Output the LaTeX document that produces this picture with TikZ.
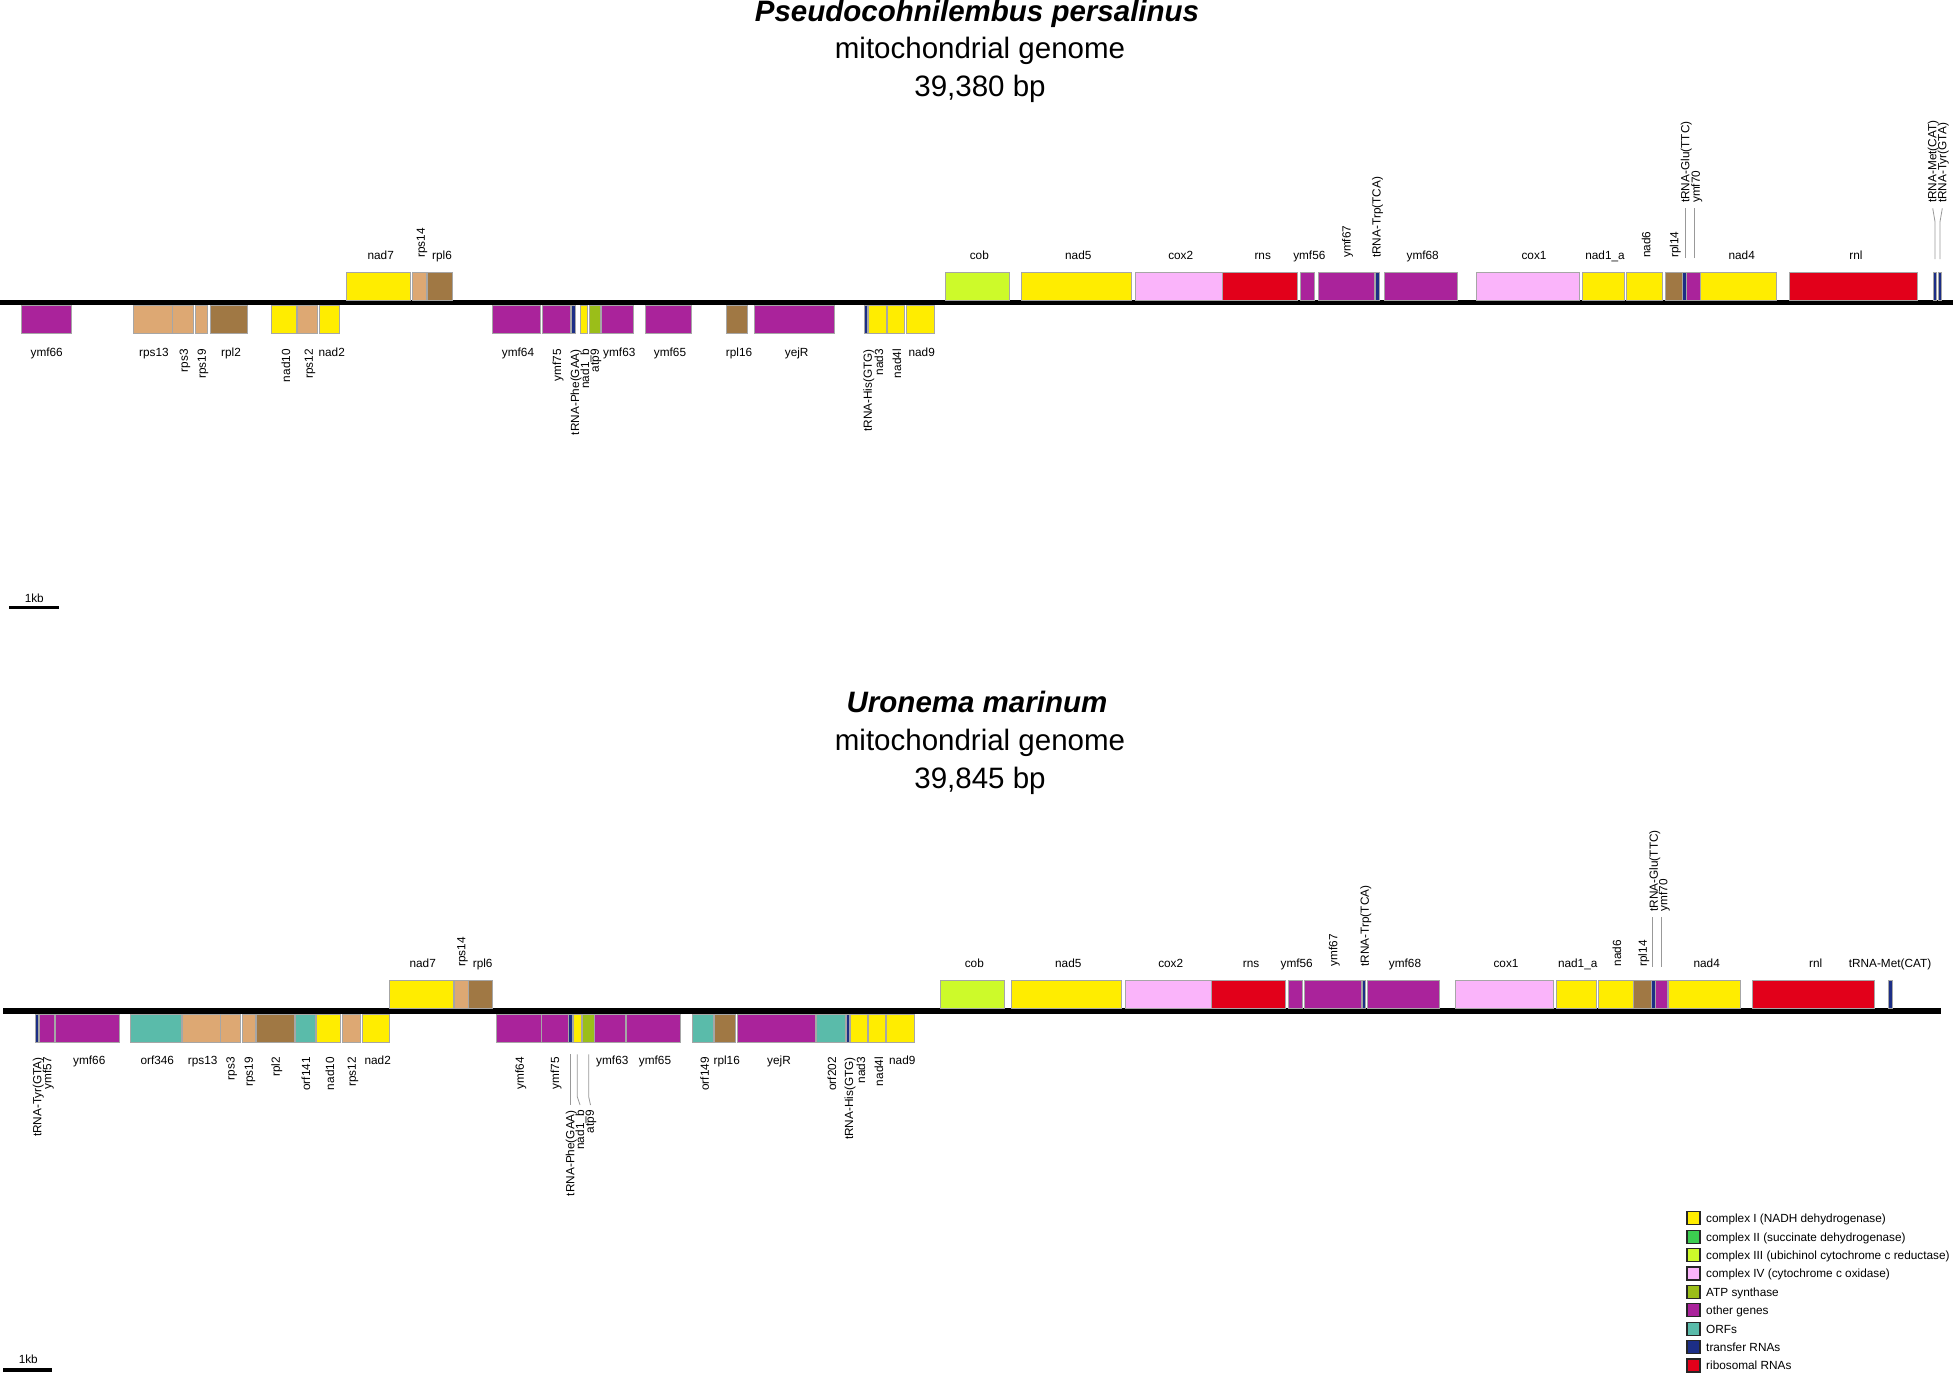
\documentclass[tikz,border=0pt]{standalone}
\usepackage{fontspec}
\setmainfont{Liberation Sans}
\definecolor{cI}{RGB}{255,237,0}
\definecolor{cII}{RGB}{60,205,80}
\definecolor{cIII}{RGB}{205,250,42}
\definecolor{cIV}{RGB}{250,180,250}
\definecolor{cATP}{RGB}{155,190,25}
\definecolor{cOth}{RGB}{170,35,155}
\definecolor{cORF}{RGB}{90,187,170}
\definecolor{cTRNA}{RGB}{28,46,134}
\definecolor{cRRNA}{RGB}{226,0,26}
\definecolor{cRPS}{RGB}{221,168,115}
\definecolor{cRPL}{RGB}{160,120,68}
\tikzset{
 gene/.style={draw=black!35, line width=0.7pt},
 ci/.style={fill=cI}, ciii/.style={fill=cIII}, civ/.style={fill=cIV},
 atpc/.style={fill=cATP}, oth/.style={fill=cOth}, orfc/.style={fill=cORF},
 trna/.style={fill=cTRNA}, rrna/.style={fill=cRRNA}, rpsc/.style={fill=cRPS}, rplc/.style={fill=cRPL},
 lbl/.style={font=\fontsize{11.8}{14}\selectfont, inner sep=0pt, text=black},
 hl/.style={lbl, anchor=base},
 rl/.style={lbl, rotate=90},
 leader/.style={draw=black!40, line width=0.8pt},
 ttl/.style={font=\fontsize{29.5}{35}\selectfont, anchor=base, inner sep=0pt},
 legsq/.style={draw=black!85, line width=1.2pt}
}
\newcommand\gTa[3]{\path[gene,#3] (#1,272) rectangle (#2,300);}
\newcommand\gTb[3]{\path[gene,#3] (#1,305) rectangle (#2,333);}
\newcommand\gBa[3]{\path[gene,#3] (#1,980) rectangle (#2,1008);}
\newcommand\gBb[3]{\path[gene,#3] (#1,1014) rectangle (#2,1042);}
\newcommand\lTa[3]{\node[hl] (#1) at (#2,259) {#3};}
\newcommand\rTa[3]{\node[rl,anchor=west] (#1) at (#2,258) {#3};}
\newcommand\lTb[3]{\node[hl] (#1) at (#2,356) {#3};}
\newcommand\rTb[3]{\node[rl,anchor=east] (#1) at (#2,349) {#3};}
\newcommand\lBa[3]{\node[hl] (#1) at (#2,967.5) {#3};}
\newcommand\rBa[3]{\node[rl,anchor=west] (#1) at (#2,966.7) {#3};}
\newcommand\lBb[3]{\node[hl] (#1) at (#2,1064) {#3};}
\newcommand\rBb[3]{\node[rl,anchor=east] (#1) at (#2,1057) {#3};}
\begin{document}
\begin{tikzpicture}[x=1pt,y=-1pt]
\useasboundingbox (0,0) rectangle (1959,1374);
\fill[white] (0,0) rectangle (1959,1374);
% ---------------- titles
\node[ttl] (Pt1) at (977,21.5) {\bfseries\itshape Pseudocohnilembus persalinus};
\node[ttl] (Pt2) at (980,58.5) {mitochondrial genome};
\node[ttl] (Pt3) at (980,96) {39,380 bp};
\node[ttl] (Ut1) at (977,712.5) {\bfseries\itshape Uronema marinum};
\node[ttl] (Ut2) at (980,750.5) {mitochondrial genome};
\node[ttl] (Ut3) at (980,788) {39,845 bp};
% ---------------- top backbone
\fill[black] (0,300) rectangle (1953,305);
% top genes below
\gTb{21.7}{71.7}{oth}
\gTb{133.3}{172.3}{rpsc}
\gTb{172.3}{193.3}{rpsc}
\gTb{195}{207.3}{rpsc}
\gTb{210}{247.7}{rplc}
\gTb{271.7}{296}{ci}
\gTb{297.7}{317.3}{rpsc}
\gTb{319.3}{339.3}{ci}
\gTb{492.7}{540}{oth}
\gTb{542}{570.7}{oth}
\gTb{571}{575}{trna}
\gTb{580}{587.7}{ci}
\gTb{589.3}{600}{atpc}
\gTb{601.7}{633.3}{oth}
\gTb{645}{691.7}{oth}
\gTb{726.7}{747.7}{rplc}
\gTb{754.3}{834}{oth}
\gTb{864}{867.3}{trna}
\gTb{868.3}{886}{ci}
\gTb{887.7}{904.3}{ci}
\gTb{906.7}{934}{ci}
% top genes above
\gTa{346.7}{410.7}{ci}
\gTa{412.3}{426.7}{rpsc}
\gTa{427.3}{452}{rplc}
\gTa{945}{1009.3}{ciii}
\gTa{1021.3}{1131.7}{ci}
\gTa{1135.3}{1222.3}{civ}
\gTa{1222.7}{1297.7}{rrna}
\gTa{1300.7}{1314.7}{oth}
\gTa{1318}{1374}{oth}
\gTa{1375.7}{1379.3}{trna}
\gTa{1384}{1457.3}{oth}
\gTa{1476}{1579.3}{civ}
\gTa{1582.3}{1624.3}{ci}
\gTa{1626.7}{1662.7}{ci}
\gTa{1665.3}{1682}{rplc}
\gTa{1682.7}{1686.7}{trna}
\gTa{1686.7}{1700}{oth}
\gTa{1700.7}{1776.7}{ci}
\gTa{1789.3}{1917.3}{rrna}
\gTa{1933.3}{1936.7}{trna}
\gTa{1938.3}{1941.7}{trna}
% top labels below
\lTb{Pymf66}{46.7}{ymf66}
\lTb{Prps13}{154}{rps13}
\rTb{Prps3}{185}{rps3}
\rTb{Prps19}{203}{rps19}
\lTb{Prpl2}{231}{rpl2}
\rTb{Pnad10}{286}{nad10}
\rTb{Prps12}{310}{rps12}
\lTb{Pnad2}{331.7}{nad2}
\lTb{Pymf64}{518}{ymf64}
\rTb{Pymf75}{558}{ymf75}
\rTb{PtrnaPhe}{576}{tRNA-Phe(GAA)}
\rTb{Pnad1b}{586}{nad1\_b}
\rTb{Patp9}{596}{atp9}
\lTb{Pymf63}{619.3}{ymf63}
\lTb{Pymf65}{670}{ymf65}
\lTb{Prpl16}{739}{rpl16}
\lTb{PyejR}{796.7}{yejR}
\rTb{PtrnaHis}{868.7}{tRNA-His(GTG)}
\rTb{Pnad3}{879}{nad3}
\rTb{Pnad4l}{897}{nad4l}
\lTb{Pnad9}{921.7}{nad9}
% top labels above
\lTa{Pnad7}{380.7}{nad7}
\rTa{Prps14}{422}{rps14}
\lTa{Prpl6}{442}{rpl6}
\lTa{Pcob}{979.3}{cob}
\lTa{Pnad5}{1078.3}{nad5}
\lTa{Pcox2}{1180.7}{cox2}
\lTa{Prns}{1262.7}{rns}
\lTa{Pymf56}{1309.3}{ymf56}
\rTa{Pymf67}{1347.5}{ymf67}
\rTa{PtrnaTrp}{1377.5}{tRNA-Trp(TCA)}
\lTa{Pymf68}{1422.7}{ymf68}
\lTa{Pcox1}{1534}{cox1}
\lTa{Pnad1a}{1605}{nad1\_a}
\rTa{Pnad6}{1646.2}{nad6}
\rTa{Prpl14}{1675.3}{rpl14}
\node[rl,anchor=west] (PtrnaGlu) at (1686.2,203) {tRNA-Glu(TTC)};
\node[rl,anchor=west] (Pymf70) at (1696.7,203) {ymf70};
\lTa{Pnad4}{1741.7}{nad4}
\lTa{Prnl}{1856}{rnl}
\node[rl,anchor=west] (PtrnaMet) at (1933.3,203) {tRNA-Met(CAT)};
\node[rl,anchor=west] (PtrnaTyr) at (1943.3,203) {tRNA-Tyr(GTA)};
% top leaders
\coordinate (PgluA) at (1685,258); \coordinate (PgluB) at (1685,208);
\coordinate (P70A) at (1694,258); \coordinate (P70B) at (1694,208);
\coordinate (PmetA) at (1935,259); \coordinate (PmetM) at (1935,221.7); \coordinate (PmetB) at (1932.7,208.3);
\coordinate (PtyrA) at (1940,259); \coordinate (PtyrM) at (1940,221.7); \coordinate (PtyrB) at (1942.3,208.3);
\draw[leader] (PgluA) -- (PgluB);
\draw[leader] (P70A) -- (P70B);
\draw[leader] (PmetA) -- (PmetM) -- (PmetB);
\draw[leader] (PtyrA) -- (PtyrM) -- (PtyrB);
% top scale bar
\fill[black] (9.3,606) rectangle (59.3,609.3);
\node[hl] (Pkb) at (34.3,602.5) {1kb};
% ---------------- bottom backbone
\fill[black] (2.7,1008) rectangle (1940.7,1014);
% bottom genes below
\gBb{35}{38.3}{trna}
\gBb{39.3}{54}{oth}
\gBb{55.3}{119.3}{oth}
\gBb{130}{181}{orfc}
\gBb{182}{220}{rpsc}
\gBb{220.7}{240.7}{rpsc}
\gBb{242}{255}{rpsc}
\gBb{256.7}{294}{rplc}
\gBb{295}{315}{orfc}
\gBb{316}{340.7}{ci}
\gBb{342}{360}{rpsc}
\gBb{362.3}{389.3}{ci}
\gBb{496.7}{541.7}{oth}
\gBb{541.7}{568.7}{oth}
\gBb{568.7}{572.7}{trna}
\gBb{573.3}{581.7}{ci}
\gBb{582.7}{594}{atpc}
\gBb{594.7}{625.7}{oth}
\gBb{626}{680}{oth}
\gBb{692}{713.3}{orfc}
\gBb{714.3}{735}{rplc}
\gBb{737.7}{815.7}{oth}
\gBb{816.3}{845.7}{orfc}
\gBb{846}{849.3}{trna}
\gBb{850}{867.7}{ci}
\gBb{868.7}{885.7}{ci}
\gBb{886.7}{914.3}{ci}
% bottom genes above
\gBa{389.3}{453.3}{ci}
\gBa{454}{468}{rpsc}
\gBa{468.7}{492.7}{rplc}
\gBa{940}{1004}{ciii}
\gBa{1011}{1121.7}{ci}
\gBa{1125.7}{1211}{civ}
\gBa{1211}{1285.7}{rrna}
\gBa{1288}{1302}{oth}
\gBa{1304}{1361}{oth}
\gBa{1362}{1365.7}{trna}
\gBa{1367}{1439}{oth}
\gBa{1455.3}{1553.3}{civ}
\gBa{1556}{1596.7}{ci}
\gBa{1598.7}{1633.3}{ci}
\gBa{1633.7}{1651}{rplc}
\gBa{1651.7}{1655}{trna}
\gBa{1655}{1667.7}{oth}
\gBa{1668.7}{1740.7}{ci}
\gBa{1752.7}{1874}{rrna}
\gBa{1888.7}{1892}{trna}
% bottom labels below
\rBb{UtrnaTyr}{38.3}{tRNA-Tyr(GTA)}
\rBb{Uymf57}{48.3}{ymf57}
\lBb{Uymf66}{89.3}{ymf66}
\lBb{Uorf346}{157.3}{orf346}
\lBb{Urps13}{202.7}{rps13}
\rBb{Urps3}{231.7}{rps3}
\rBb{Urps19}{250}{rps19}
\rBb{Urpl2}{276.7}{rpl2}
\rBb{Uorf141}{306}{orf141}
\rBb{Unad10}{330}{nad10}
\rBb{Urps12}{353}{rps12}
\lBb{Unad2}{377.7}{nad2}
\rBb{Uymf64}{520.8}{ymf64}
\rBb{Uymf75}{556}{ymf75}
\node[rl,anchor=east] (UtrnaPhe) at (571.3,1110) {tRNA-Phe(GAA)};
\node[rl,anchor=east] (Unad1b) at (581,1110) {nad1\_b};
\node[rl,anchor=east] (Uatp9) at (591,1110) {atp9};
\lBb{Uymf63}{612.3}{ymf63}
\lBb{Uymf65}{655}{ymf65}
\rBb{Uorf149}{704.7}{orf149}
\lBb{Urpl16}{726.7}{rpl16}
\lBb{UyejR}{779}{yejR}
\rBb{Uorf202}{832}{orf202}
\rBb{UtrnaHis}{850}{tRNA-His(GTG)}
\rBb{Unad3}{861}{nad3}
\rBb{Unad4l}{878.8}{nad4l}
\lBb{Unad9}{902.3}{nad9}
% bottom labels above
\lBa{Unad7}{422.7}{nad7}
\rBa{Urps14}{462.5}{rps14}
\lBa{Urpl6}{482.7}{rpl6}
\lBa{Ucob}{974.3}{cob}
\lBa{Unad5}{1068.3}{nad5}
\lBa{Ucox2}{1170.7}{cox2}
\lBa{Urns}{1251}{rns}
\lBa{Uymf56}{1296.7}{ymf56}
\rBa{Uymf67}{1334.3}{ymf67}
\rBa{UtrnaTrp}{1365.7}{tRNA-Trp(TCA)}
\lBa{Uymf68}{1405}{ymf68}
\lBa{Ucox1}{1506}{cox1}
\lBa{Unad1a}{1577.7}{nad1\_a}
\rBa{Unad6}{1617}{nad6}
\rBa{Urpl14}{1643.8}{rpl14}
\node[rl,anchor=west] (UtrnaGlu) at (1654.7,911.7) {tRNA-Glu(TTC)};
\node[rl,anchor=west] (Uymf70) at (1664.2,911.7) {ymf70};
\lBa{Unad4}{1706.7}{nad4}
\lBa{Urnl}{1815.7}{rnl}
\lBa{UtrnaMet}{1890}{tRNA-Met(CAT)}
% bottom leaders
\coordinate (UgluA) at (1652.3,966.7); \coordinate (UgluB) at (1652.3,916.7);
\coordinate (U70A) at (1661.3,966.7); \coordinate (U70B) at (1661.3,916.7);
\coordinate (UpheA) at (570.7,1054.3); \coordinate (UpheB) at (570.7,1105);
\coordinate (Un1bA) at (577.3,1054.3); \coordinate (Un1bM) at (577.3,1096.7); \coordinate (Un1bB) at (580,1105);
\coordinate (UatpA) at (588.7,1054.3); \coordinate (UatpM) at (588.7,1096.7); \coordinate (UatpB) at (590.5,1105);
\draw[leader] (UgluA) -- (UgluB);
\draw[leader] (U70A) -- (U70B);
\draw[leader] (UpheA) -- (UpheB);
\draw[leader] (Un1bA) -- (Un1bM) -- (Un1bB);
\draw[leader] (UatpA) -- (UatpM) -- (UatpB);
% bottom scale bar
\fill[black] (2.7,1368.3) rectangle (52.3,1371.7);
\node[hl] (Ukb) at (28.3,1363.3) {1kb};
% ---------------- legend
\foreach \i/\c/\t in {0/cI/{complex I (NADH dehydrogenase)},
  1/cII/{complex II (succinate dehydrogenase)},
  2/cIII/{complex III (ubichinol cytochrome c reductase)},
  3/cIV/{complex IV (cytochrome c oxidase)},
  4/cATP/{ATP synthase},
  5/cOth/{other genes},
  6/cORF/{ORFs},
  7/cTRNA/{transfer RNAs},
  8/cRRNA/{ribosomal RNAs}}{
  \path[legsq,fill=\c] (1687,{1211.8+18.4*\i}) rectangle ++(13,13);
  \node[lbl,anchor=base west] (leg\i) at (1706,{1222.6+18.4*\i}) {\t};
}
\end{tikzpicture}
\end{document}
